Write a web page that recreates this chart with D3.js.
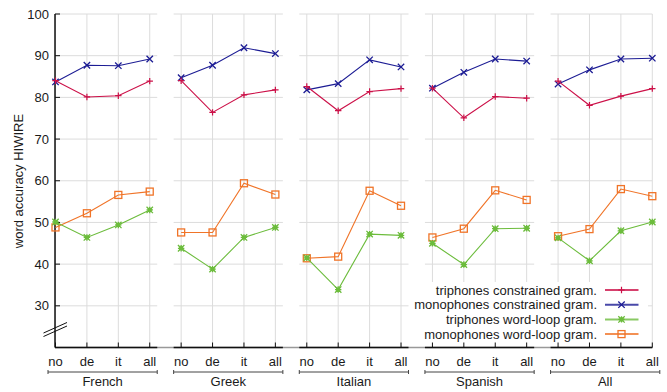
<!DOCTYPE html>
<html>
<head>
<meta charset="utf-8">
<script src="https://cdn.jsdelivr.net/npm/d3@7"></script>
<style>
  body { margin: 0; background: #fff; }
  svg text { font-family: "Liberation Sans", Arial, sans-serif; fill: #1a1a1a; }
</style>
</head>
<body>
<div id="vis"></div>
<script>
// data
const GROUPS = ["French", "Greek", "Italian", "Spanish", "All"];
const CATS = ["no", "de", "it", "all"];
const Y_TICKS = [30, 40, 50, 60, 70, 80, 90, 100];

// values per group, in the order no, de, it, all
const triConstrained = [84.0, 80.1, 80.4, 83.9,  84.0, 76.4, 80.6, 81.8,  82.6, 76.8, 81.4, 82.1,  82.2, 75.1, 80.2, 79.8,  83.9, 78.1, 80.3, 82.1];
const monoConstrained = [83.7, 87.7, 87.6, 89.2,  84.7, 87.7, 91.9, 90.5,  81.8, 83.3, 89.0, 87.3,  82.2, 86.0, 89.2, 88.7,  83.2, 86.6, 89.2, 89.4];
const triWordLoop = [50.1, 46.4, 49.4, 53.0,  43.8, 38.8, 46.4, 48.8,  41.5, 33.9, 47.2, 46.9,  45.0, 39.9, 48.5, 48.6,  46.3, 40.8, 48.0, 50.1];
const monoWordLoop = [48.8, 52.2, 56.6, 57.4,  47.6, 47.6, 59.4, 56.7,  41.4, 41.8, 57.6, 54.0,  46.4, 48.5, 57.7, 55.4,  46.7, 48.4, 58.0, 56.3];

const SERIES = [
  {name: "triphones constrained gram.", values: triConstrained, color: "#cc1048", marker: "plus"},
  {name: "monophones constrained gram.", values: monoConstrained, color: "#1c1c94", marker: "cross"},
  {name: "triphones word-loop gram.", values: triWordLoop, color: "#6cbc3c", marker: "star"},
  {name: "monophones word-loop gram.", values: monoWordLoop, color: "#f07428", marker: "square"}
];

const WIDTH = 667;
const HEIGHT = 392;
const MARG = {left: 55, right: 15, top: 14, bottom: 44.5};
const PAD = 7.5; // space between a panel edge and its first / last point

const svg = d3.select("#vis")
  .append("svg")
    .attr("width", WIDTH)
    .attr("height", HEIGHT);

// one key per point, all evenly spaced across the panels
const KEYS = [];
GROUPS.forEach((g) => CATS.forEach((c) => KEYS.push(g + "|" + c)));

const X_SCALE = d3.scalePoint()
  .domain(KEYS)
  .range([55.5, 652.3]);
const Y_SCALE = d3.scaleLinear()
  .domain([20, 100])
  .range([HEIGHT - MARG.bottom, MARG.top]);

const plotLeft = MARG.left;
const plotRight = 652.3;
const yBottom = Y_SCALE(20);

function panelExtent(g) {
  return [X_SCALE(g + "|no") - PAD, X_SCALE(g + "|all") + PAD];
}

// grid per panel
const grid = svg.append("g").attr("class", "grid");
GROUPS.forEach((g) => {
  const [x0, x1] = panelExtent(g);
  const l = Math.max(x0, plotLeft), r = Math.min(x1, plotRight);
  Y_TICKS.forEach((t) => {
    grid.append("line")
      .attr("x1", l).attr("x2", r)
      .attr("y1", Y_SCALE(t)).attr("y2", Y_SCALE(t))
      .attr("stroke", "#dcdcdc").attr("stroke-width", 1);
  });
  CATS.forEach((c) => {
    grid.append("line")
      .attr("x1", X_SCALE(g + "|" + c)).attr("x2", X_SCALE(g + "|" + c))
      .attr("y1", Y_SCALE(100)).attr("y2", yBottom)
      .attr("stroke", "#dcdcdc").attr("stroke-width", 1);
  });
});

// legend box hides the grid under it
svg.append("rect")
  .attr("x", 412).attr("y", 282)
  .attr("width", 236).attr("height", yBottom - 282 - 1)
  .attr("fill", "#fff");

// bottom axis: grey base, black under each panel
svg.append("line")
  .attr("x1", plotLeft).attr("x2", plotRight)
  .attr("y1", yBottom).attr("y2", yBottom)
  .attr("stroke", "#999").attr("stroke-width", 1.5);
GROUPS.forEach((g) => {
  const [x0, x1] = panelExtent(g);
  svg.append("line")
    .attr("x1", Math.max(x0, plotLeft)).attr("x2", Math.min(x1, plotRight))
    .attr("y1", yBottom).attr("y2", yBottom)
    .attr("stroke", "#111").attr("stroke-width", 1.5);
  CATS.forEach((c) => {
    const x = X_SCALE(g + "|" + c);
    svg.append("line")
      .attr("x1", x).attr("x2", x)
      .attr("y1", yBottom).attr("y2", yBottom - 5)
      .attr("stroke", "#111").attr("stroke-width", 1);
    svg.append("text")
      .attr("x", x).attr("y", 366)
      .attr("text-anchor", "middle")
      .attr("font-size", "13px")
      .text(c);
  });
  // bracket under the group
  const bracket = svg.append("g").attr("stroke", "#444").attr("stroke-width", 1);
  bracket.append("line").attr("x1", x0).attr("x2", x1).attr("y1", 372).attr("y2", 372);
  bracket.append("line").attr("x1", x0).attr("x2", x0).attr("y1", 370).attr("y2", 374);
  bracket.append("line").attr("x1", x1).attr("x2", x1).attr("y1", 370).attr("y2", 374);
  svg.append("text")
    .attr("x", (x0 + x1) / 2).attr("y", 386)
    .attr("text-anchor", "middle")
    .attr("font-size", "13px")
    .text(g);
});

// y axis
svg.append("line")
  .attr("x1", plotLeft).attr("x2", plotLeft)
  .attr("y1", Y_SCALE(100)).attr("y2", yBottom)
  .attr("stroke", "#111").attr("stroke-width", 1.5);
Y_TICKS.forEach((t) => {
  svg.append("line")
    .attr("x1", plotLeft).attr("x2", plotLeft + 5)
    .attr("y1", Y_SCALE(t)).attr("y2", Y_SCALE(t))
    .attr("stroke", "#111").attr("stroke-width", 1);
  svg.append("text")
    .attr("x", 49).attr("y", Y_SCALE(t) + 4.5)
    .attr("text-anchor", "end")
    .attr("font-size", "13px")
    .text(t);
});
// axis break marks
[0, 3.5].forEach((dy) => {
  svg.append("line")
    .attr("x1", 43.5).attr("y1", 333 + dy)
    .attr("x2", 67).attr("y2", 322.5 + dy)
    .attr("stroke", "#111").attr("stroke-width", 1);
});
svg.append("text")
  .attr("transform", "translate(23," + 181 + ") rotate(-90)")
  .attr("text-anchor", "middle")
  .attr("font-size", "13px")
  .text("word accuracy HIWIRE");

// markers
function drawMarker(sel, type, color) {
  const s = 3.2;
  if (type === "plus") {
    sel.append("path").attr("d", `M${-s},0H${s}M0,${-s}V${s}`)
      .attr("stroke", color).attr("stroke-width", 1.2).attr("fill", "none");
  } else if (type === "cross") {
    sel.append("path").attr("d", `M${-s},${-s}L${s},${s}M${-s},${s}L${s},${-s}`)
      .attr("stroke", color).attr("stroke-width", 1.3).attr("fill", "none");
  } else if (type === "star") {
    sel.append("path").attr("d", `M${-s},${-s}L${s},${s}M${-s},${s}L${s},${-s}M${-s},0H${s}M0,${-s}V${s}`)
      .attr("stroke", color).attr("stroke-width", 1.3).attr("fill", "none");
    sel.append("rect").attr("x", -2).attr("y", -2).attr("width", 4).attr("height", 4)
      .attr("fill", color);
  } else {
    sel.append("rect").attr("x", -3.5).attr("y", -3.5).attr("width", 7).attr("height", 7)
      .attr("stroke", color).attr("stroke-width", 1.3).attr("fill", "none");
  }
}

const line = d3.line()
  .x((d) => X_SCALE(d.key))
  .y((d) => Y_SCALE(d.v));

SERIES.slice().reverse().forEach((s) => {
  const pts = KEYS.map((k, i) => ({key: k, v: s.values[i]}));
  GROUPS.forEach((g, gi) => {
    svg.append("path")
      .datum(pts.slice(gi * 4, gi * 4 + 4))
      .attr("d", line)
      .attr("fill", "none")
      .attr("stroke", s.color)
      .attr("stroke-width", 1.1);
  });
  svg.selectAll(null)
    .data(pts)
    .enter()
    .append("g")
      .attr("transform", (d) => "translate(" + X_SCALE(d.key) + "," + Y_SCALE(d.v) + ")")
      .each(function() { drawMarker(d3.select(this), s.marker, s.color); });
});

// legend
const legend = svg.append("g");
SERIES.forEach((s, i) => {
  const y = 290 + i * 14.7;
  legend.append("text")
    .attr("x", 597).attr("y", y + 4.5)
    .attr("text-anchor", "end")
    .attr("font-size", "13px")
    .text(s.name);
  legend.append("line")
    .attr("x1", 605).attr("x2", 638.5)
    .attr("y1", y).attr("y2", y)
    .attr("stroke", s.color).attr("stroke-width", 2)
    .attr("stroke-opacity", 0.8);
  const m = legend.append("g").attr("transform", "translate(621.5," + y + ")");
  drawMarker(m, s.marker, s.color);
});
</script>
</body>
</html>
